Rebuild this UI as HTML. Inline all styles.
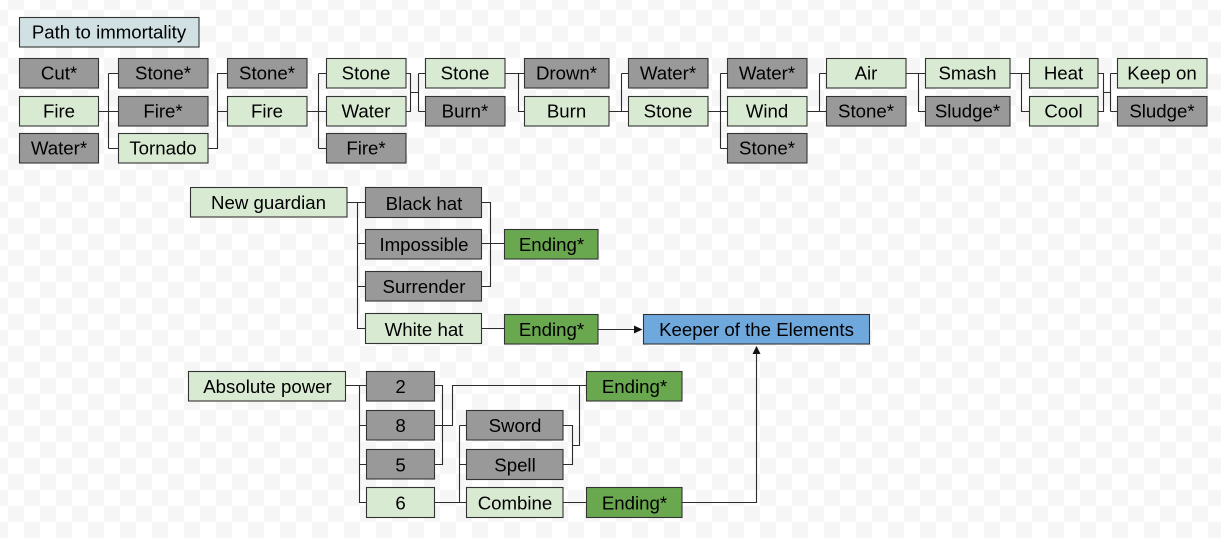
<!DOCTYPE html>
<html><head><meta charset="utf-8"><style>
html,body{margin:0;padding:0;background:#fff}
svg{display:block}
text{font-family:"Liberation Sans",Arial,sans-serif;font-size:18.65px;fill:#000;text-anchor:middle}
.b{stroke:#333;stroke-width:1.1}
.g{fill:#d9ead3}.d{fill:#999}.e{fill:#6aa84f}
.l{fill:none;stroke:#2c2c2c;stroke-width:1.1}
</style></head><body>
<svg width="1221" height="538" viewBox="0 0 1221 538" xmlns="http://www.w3.org/2000/svg">
<defs><pattern id="c" width="32" height="32" patternUnits="userSpaceOnUse" x="8" y="10"><rect width="32" height="32" fill="#fff"/><rect x="16" width="16" height="16" fill="#f6f6f6"/><rect y="16" width="16" height="16" fill="#f6f6f6"/></pattern></defs>
<rect width="1221" height="538" fill="url(#c)"/>
<path class="l" d="M99 111.5H118M108.5 73.5V148.5M108.5 73.5H118M108.5 148.5H118M208 148.5H217.5V73.5H227M217.5 111.5H227M307 111.5H326M318.5 73.5V148.5M318.5 73.5H326M318.5 148.5H326M406 73.5H410.5V111.5H406M410.5 92.5H418.5M418.5 73.5V111.5M418.5 73.5H425M418.5 111.5H425M505 73.5H524M518.5 73.5V111.5H524M609 111.5H628M621.5 73.5V111.5M621.5 73.5H628M708 111.5H727M720.5 73.5V148.5M720.5 73.5H727M720.5 148.5H727M807 111.5H826M819.5 73.5V111.5M819.5 73.5H826M906 73.5H925M918.5 73.5V111.5H925M1010 73.5H1029M1021.5 73.5V111.5H1029M1098 73.5H1103.5V111.5H1098M1103.5 92.5H1110.5M1110.5 73.5V111.5M1110.5 73.5H1117M1110.5 111.5H1117"/>
<path class="l" d="M347 202.5H365.5M357.5 202.5V328.5H365.5M357.5 243.5H365.5M357.5 286.5H365.5M481.5 202.5H490.5V286.5H481.5M481.5 243.5H504.5M481.5 328.5H504.5"/>
<path class="l" d="M345.5 385.5H366M359.5 385.5V502.5H366M359.5 425.5H366M359.5 464.5H366M434.5 385.5H442.5V464.5H434.5M434.5 425.5H452.5V385.5H586.5M434.5 502.5H466.5M459.5 425.5V502.5M459.5 425.5H466.5M459.5 464.5H466.5M563 425.5H572.5V464.5H563M572.5 445.5H579.5V385.5M563 502.5H586.5"/>
<path class="l" d="M598.3 329.5H635M682.3 502.5H756.5V353"/>
<path d="M642.5 329.5L634 325.5V333.5Z" fill="#111"/>
<path d="M756.5 346L752.5 354H760.5Z" fill="#111"/>

<rect class="b" x="19.5" y="17.5" width="179.5" height="29.5" fill="#d0e0e3"/><text x="109" y="38.5">Path to immortality</text>

<rect class="b d" x="19.5" y="58.5" width="79" height="29.5"/><text x="59" y="79.5">Cut*</text>
<rect class="b g" x="19.5" y="96.5" width="79" height="29.5"/><text x="59" y="117.5">Fire</text>
<rect class="b d" x="19.5" y="133.5" width="79" height="29.5"/><text x="59" y="154.5">Water*</text>

<rect class="b d" x="118.5" y="58.5" width="89.5" height="29.5"/><text x="163" y="79.5">Stone*</text>
<rect class="b d" x="118.5" y="96.5" width="89.5" height="29.5"/><text x="163" y="117.5">Fire*</text>
<rect class="b g" x="118.5" y="133.5" width="89.5" height="29.5"/><text x="163" y="154.5">Tornado</text>

<rect class="b d" x="227.5" y="58.5" width="79.5" height="29.5"/><text x="267" y="79.5">Stone*</text>
<rect class="b g" x="227.5" y="96.5" width="79.5" height="29.5"/><text x="267" y="117.5">Fire</text>

<rect class="b g" x="326.5" y="58.5" width="79.5" height="29.5"/><text x="366" y="79.5">Stone</text>
<rect class="b g" x="326.5" y="96.5" width="79.5" height="29.5"/><text x="366" y="117.5">Water</text>
<rect class="b d" x="326.5" y="133.5" width="79.5" height="29.5"/><text x="366" y="154.5">Fire*</text>

<rect class="b g" x="425.5" y="58.5" width="79.5" height="29.5"/><text x="465" y="79.5">Stone</text>
<rect class="b d" x="425.5" y="96.5" width="79.5" height="29.5"/><text x="465" y="117.5">Burn*</text>

<rect class="b d" x="524.5" y="58.5" width="84.5" height="29.5"/><text x="566.5" y="79.5">Drown*</text>
<rect class="b g" x="524.5" y="96.5" width="84.5" height="29.5"/><text x="566.5" y="117.5">Burn</text>

<rect class="b d" x="628.5" y="58.5" width="79.5" height="29.5"/><text x="668" y="79.5">Water*</text>
<rect class="b g" x="628.5" y="96.5" width="79.5" height="29.5"/><text x="668" y="117.5">Stone</text>

<rect class="b d" x="727.5" y="58.5" width="79.5" height="29.5"/><text x="767" y="79.5">Water*</text>
<rect class="b g" x="727.5" y="96.5" width="79.5" height="29.5"/><text x="767" y="117.5">Wind</text>
<rect class="b d" x="727.5" y="133.5" width="79.5" height="29.5"/><text x="767" y="154.5">Stone*</text>

<rect class="b g" x="826.5" y="58.5" width="79.5" height="29.5"/><text x="866" y="79.5">Air</text>
<rect class="b d" x="826.5" y="96.5" width="79.5" height="29.5"/><text x="866" y="117.5">Stone*</text>

<rect class="b g" x="925.5" y="58.5" width="84.5" height="29.5"/><text x="967.5" y="79.5">Smash</text>
<rect class="b d" x="925.5" y="96.5" width="84.5" height="29.5"/><text x="967.5" y="117.5">Sludge*</text>

<rect class="b g" x="1029.5" y="58.5" width="68.5" height="29.5"/><text x="1063.5" y="79.5">Heat</text>
<rect class="b g" x="1029.5" y="96.5" width="68.5" height="29.5"/><text x="1063.5" y="117.5">Cool</text>

<rect class="b g" x="1117.5" y="58.5" width="89.5" height="29.5"/><text x="1162" y="79.5">Keep on</text>
<rect class="b d" x="1117.5" y="96.5" width="89.5" height="29.5"/><text x="1162" y="117.5">Sludge*</text>

<rect class="b g" x="190.5" y="187.5" width="156.5" height="29.5"/><text x="268.5" y="209">New guardian</text>
<rect class="b d" x="365.5" y="187.5" width="116" height="30"/><text x="424" y="210">Black hat</text>
<rect class="b d" x="365.5" y="229.5" width="116" height="29.5"/><text x="424" y="251">Impossible</text>
<rect class="b d" x="365.5" y="271.5" width="116" height="29.5"/><text x="424" y="293">Surrender</text>
<rect class="b g" x="365.5" y="313.5" width="116" height="30"/><text x="424" y="336">White hat</text>
<rect class="b e" x="504.5" y="229.5" width="93.5" height="29.5"/><text x="551.5" y="251">Ending*</text>
<rect class="b e" x="504.5" y="314.5" width="93.5" height="29.5"/><text x="551.5" y="336">Ending*</text>
<rect class="b" x="643.5" y="314.5" width="226" height="29.5" fill="#6fa8dc"/><text x="756.5" y="336">Keeper of the Elements</text>

<rect class="b g" x="188.5" y="371.5" width="157" height="29.5"/><text x="267.5" y="393">Absolute power</text>
<rect class="b d" x="366.5" y="371.5" width="68" height="29.5"/><text x="400.5" y="393">2</text>
<rect class="b d" x="366.5" y="410.5" width="68" height="29.5"/><text x="400.5" y="432">8</text>
<rect class="b d" x="366.5" y="449.5" width="68" height="29.5"/><text x="400.5" y="471.5">5</text>
<rect class="b g" x="366.5" y="487.5" width="68" height="30"/><text x="400.5" y="509.5">6</text>
<rect class="b d" x="466.5" y="410.5" width="96.5" height="29.5"/><text x="515" y="432">Sword</text>
<rect class="b d" x="466.5" y="449.5" width="96.5" height="30"/><text x="515" y="471.5">Spell</text>
<rect class="b g" x="466.5" y="487.5" width="96.5" height="30"/><text x="515" y="509.5">Combine</text>
<rect class="b e" x="586.5" y="371.5" width="95.5" height="29.5"/><text x="634.5" y="393">Ending*</text>
<rect class="b e" x="586.5" y="487.5" width="95.5" height="30"/><text x="634.5" y="509.5">Ending*</text>
</svg>
</body></html>
